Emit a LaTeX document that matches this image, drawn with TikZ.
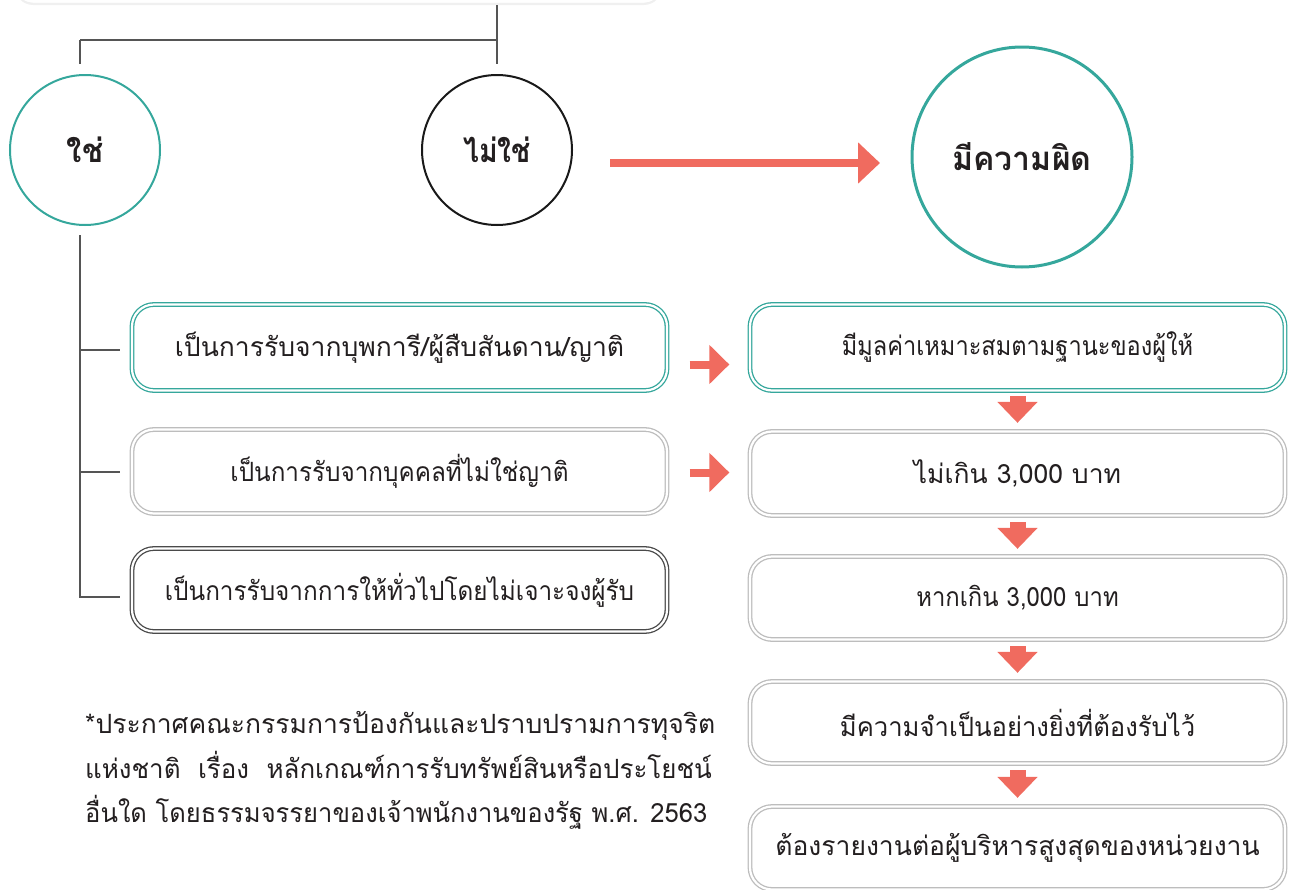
\documentclass[tikz,border=0pt]{standalone}
\usepackage{fontspec}
\usepackage{graphicx}
\newfontfamily\thai[Script=Thai]{Loma}
\usetikzlibrary{arrows.meta,calc,shadows}
\definecolor{teal1}{HTML}{35A79C}
\definecolor{red1}{HTML}{F06B5F}
\definecolor{line1}{HTML}{555555}
\definecolor{lgray}{HTML}{BDBDBD}
\definecolor{dgray}{HTML}{4A4A4A}
\definecolor{txt}{HTML}{231F20}
\newcommand{\sqz}[2]{\scalebox{#1}[1]{#2}}
\begin{document}
\begin{tikzpicture}[x=1pt,y=-1pt,
  every node/.style={font=\thai, text=txt},
  boxbase/.style={rounded corners=22pt, minimum width=535pt, line width=1.3pt, double distance=2.2pt, fill=white, inner sep=0pt, font=\thai\fontsize{26.5}{30}\selectfont},
  tealbox/.style={boxbase, draw=teal1, double=white, drop shadow={opacity=0.12, shadow xshift=0pt, shadow yshift=-2pt}},
  graybox/.style={boxbase, draw=lgray, double=white},
  darkbox/.style={boxbase, draw=dgray, double=white},
  circ/.style={circle, minimum size=150pt, line width=2pt, inner sep=0pt, font=\thai\bfseries\fontsize{33}{37}\selectfont},
  conn/.style={draw=line1, line width=2.2pt},
  bigarr/.style={draw=red1, line width=8pt, -{Triangle[length=22pt,width=40pt]}},
  smallarr/.style={draw=red1, line width=8pt, -{Triangle[length=20pt,width=38pt]}},
  downarr/.style={draw=red1, line width=16pt, -{Triangle[length=21pt,width=39pt]}},
  note/.style={anchor=base west, inner sep=0pt, font=\thai\fontsize{26.5}{30}\selectfont}
]
\useasboundingbox (0,0) rectangle (1293,889);

% top box (cut off)
\node[draw=black!8, fill=white, rounded corners=18pt, minimum width=647pt, minimum height=60pt, drop shadow={opacity=0.12, shadow xshift=0pt, shadow yshift=-2pt}] (top) at (338.5,-27) {};

% circles
\node[circ, draw=teal1] (yes) at (85,150) {\sqz{0.95}{ใช่}};
\node[circ, draw=black!90] (no) at (497,150) {\sqz{0.86}{ไม่ใช่}};
\node[circ, draw=teal1, minimum size=220pt, line width=3pt] (guilty) at (1022,157) {\sqz{0.97}{มีความผิด}};

% connectors from top box
\coordinate (topstem) at (497,5);
\coordinate (joint) at (497,40);
\coordinate (leftj) at (80,40);
\coordinate (yestop) at (80,64);
\coordinate (notop) at (497,64);
\draw[conn] (topstem) -- (notop);
\draw[conn] (leftj) -- (joint);
\draw[conn] (leftj) -- (yestop);

% left boxes
\node[tealbox, minimum height=86pt] (l1) at (399.5,347.5) {เป็นการรับจากบุพการี/ผู้สืบสันดาน/ญาติ};
\node[graybox, minimum height=84pt] (l2) at (399.5,471.5) {\sqz{0.916}{เป็นการรับจากบุคคลที่ไม่ใช่ญาติ}};
\node[darkbox, minimum height=83pt] (l3) at (399.5,590) {\sqz{0.918}{เป็นการรับจากการให้ทั่วไปโดยไม่เจาะจงผู้รับ}};

% tree from yes
\coordinate (ystem) at (80,235);
\coordinate (t1) at (80,350);
\coordinate (t2) at (80,472);
\coordinate (t3) at (80,597);
\coordinate (e1) at (120,350);
\coordinate (e2) at (120,472);
\coordinate (e3) at (120,597);
\draw[conn] (ystem) -- (t3) -- (e3);
\draw[conn] (t1) -- (e1);
\draw[conn] (t2) -- (e2);

% right boxes
\node[tealbox, minimum height=86pt] (r1) at (1017.5,347.5) {\sqz{0.89}{มีมูลค่าเหมาะสมตามฐานะของผู้ให้}};
\node[graybox, minimum height=84pt] (r2) at (1017.5,473.5) {ไม่เกิน 3,000 บาท};
\node[graybox, minimum height=83pt] (r3) at (1017.5,598) {\sqz{0.90}{หากเกิน 3,000 บาท}};
\node[graybox, minimum height=82pt] (r4) at (1017.5,722.5) {\sqz{0.967}{มีความจำเป็นอย่างยิ่งที่ต้องรับไว้}};
\node[graybox, minimum height=83pt] (r5) at (1017.5,848) {ต้องรายงานต่อผู้บริหารสูงสุดของหน่วยงาน};

% arrows
\coordinate (ba) at (610,163);
\coordinate (bb) at (880,163);
\draw[bigarr] (ba) -- (bb);
\draw[smallarr] ($(l1.east)+(22,17)$) -- ($(r1.west)+(-20,17)$);
\draw[smallarr] ($(l2.east)+(22,1)$) -- ($(r2.west)+(-20,-1)$);
\draw[downarr] ($(r1.south)+(0,5)$) -- ($(r2.north)+(0,-8)$);
\draw[downarr] ($(r2.south)+(0,6)$) -- ($(r3.north)+(0,-7)$);
\draw[downarr] ($(r3.south)+(0,6)$) -- ($(r4.north)+(0,-8)$);
\draw[downarr] ($(r4.south)+(0,6)$) -- ($(r5.north)+(0,-8)$);

% footnote
\node[note] (n1) at (85,733) {*ประกาศคณะกรรมการป้องกันและปราบปรามการทุจริต};
\node[note] (n2) at (85,778) {\sqz{0.978}{แห่งชาติ\ \ เรื่อง\ \ หลักเกณฑ์การรับทรัพย์สินหรือประโยชน์}};
\node[note] (n3) at (85,822) {\sqz{0.964}{อื่นใด โดยธรรมจรรยาของเจ้าพนักงานของรัฐ พ.ศ. 2563}};
\end{tikzpicture}
\end{document}
